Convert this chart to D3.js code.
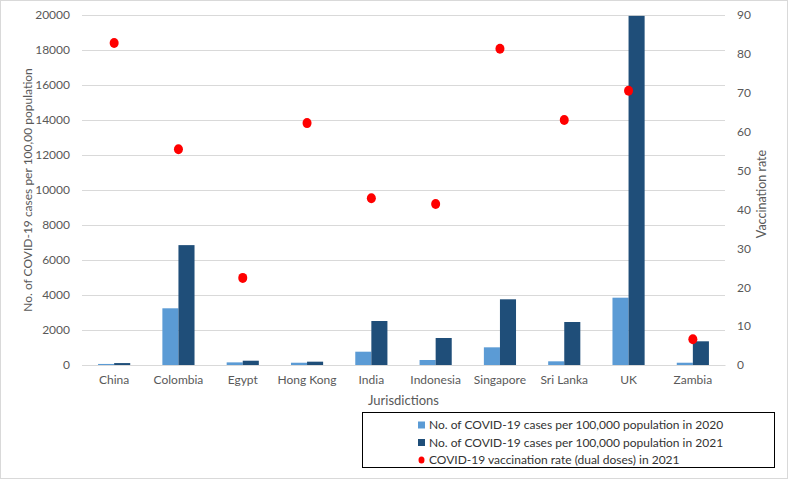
<!DOCTYPE html>
<html><head><meta charset="utf-8">
<script src="https://cdn.jsdelivr.net/npm/d3@7"></script>
<style>body{margin:0;background:#fff}svg{display:block}text{font-family:Lato,"Open Sans",sans-serif}</style>
</head><body><svg id="c" width="788" height="479"></svg>
<script>
const categories = ["China","Colombia","Egypt","Hong Kong","India","Indonesia","Singapore","Sri Lanka","UK","Zambia"];
const cases2020 = [60,3240,150,130,760,286,1010,210,3846,130];
const cases2021 = [110,6850,245,190,2514,1543,3754,2457,19950,1354];
const vaccRate = [82.8,55.5,22.4,62.2,42.9,41.4,81.3,63.0,70.5,6.6];
const leftTicks = [0,2000,4000,6000,8000,10000,12000,14000,16000,18000,20000];
const rightTicks = [0,10,20,30,40,50,60,70,80,90];
const seriesNames = ["No. of COVID-19 cases per 100,000 population in 2020","No. of COVID-19 cases per 100,000 population in 2021","COVID-19 vaccination rate (dual doses) in 2021"];
const colors = ["#5B9BD5","#1F4E79","#FF0000"];

const svg = d3.select("#c");
const L=82,R=725,T=15,B=365;
svg.append("rect").attr("x",0.5).attr("y",0.5).attr("width",787).attr("height",478).attr("fill","#fff").attr("stroke","#d9d9d9");
const x = d3.scaleBand().domain(categories).range([L,R]);
const xs = d3.scaleBand().domain([0,1]).range([0,x.bandwidth()]).paddingInner(0).paddingOuter(1);
const y = d3.scaleLinear().domain([0,20000]).range([B,T]);
const y2 = d3.scaleLinear().domain([0,90]).range([B,T]);
const tc="#595959";
// grid
svg.append("g").selectAll("line").data(leftTicks).join("line")
 .attr("x1",L).attr("x2",R).attr("y1",d=>Math.round(y(d))+0.5).attr("y2",d=>Math.round(y(d))+0.5)
 .attr("stroke","#d9d9d9").attr("stroke-width",1);
// left axis
const ga=svg.append("g").attr("transform",`translate(${L},0)`).call(d3.axisLeft(y).tickValues(leftTicks).tickSize(0).tickPadding(12).tickFormat(d3.format("d")));
ga.select(".domain").remove();
ga.selectAll("text").attr("fill",tc).style("font-size","12px");
const gr=svg.append("g").attr("transform",`translate(${R},0)`).call(d3.axisRight(y2).tickValues(rightTicks).tickSize(0).tickPadding(12));
gr.select(".domain").remove();
gr.selectAll("text").attr("fill",tc).style("font-size","12px");
// bars
[cases2020,cases2021].forEach((arr,si)=>{
 svg.append("g").selectAll("rect").data(arr).join("rect")
  .attr("x",(d,i)=>x(categories[i])+xs(si)).attr("width",xs.bandwidth())
  .attr("y",d=>y(d)).attr("height",d=>B-y(d)).attr("fill",colors[si]);
});
// x axis
const gx=svg.append("g").attr("transform",`translate(0,${B})`).call(d3.axisBottom(x).tickSize(0).tickPadding(10));
gx.select(".domain").attr("stroke","#d9d9d9");
gx.selectAll("text").attr("fill",tc).style("font-size","12px");
// markers
svg.append("g").selectAll("ellipse").data(vaccRate).join("ellipse")
 .attr("cx",(d,i)=>x(categories[i])+x.bandwidth()/2).attr("cy",d=>y2(d))
 .attr("rx",4.5).attr("ry",5).attr("fill",colors[2]);
// titles
svg.append("text").attr("transform",`translate(32,${(T+B)/2}) rotate(-90)`).attr("text-anchor","middle").attr("fill",tc).style("font-size","12px").text("No. of COVID-19 cases per 100,00 population");
svg.append("text").attr("transform",`translate(766,${(T+B)/2+4}) rotate(-90)`).attr("text-anchor","middle").attr("fill",tc).style("font-size","12.5px").text("Vaccination rate");
svg.append("text").attr("x",(L+R)/2).attr("y",405).attr("text-anchor","middle").attr("fill",tc).style("font-size","13px").text("Jurisdictions");
// legend
svg.append("rect").attr("x",362.5).attr("y",412.5).attr("width",412).attr("height",55).attr("fill","none").attr("stroke","#000").attr("stroke-width",1);
const lg=svg.append("g").selectAll("g").data(seriesNames).join("g").attr("transform",(d,i)=>`translate(418,${425+i*17.5})`);
lg.filter((d,i)=>i<2).append("rect").attr("x",0).attr("y",-3.5).attr("width",7).attr("height",7).attr("fill",(d,i)=>colors[i]);
lg.filter((d,i)=>i==2).append("ellipse").attr("cx",3.5).attr("cy",0).attr("rx",3).attr("ry",3.5).attr("fill",colors[2]);
lg.append("text").attr("x",11).attr("y",4).attr("fill","#333").style("font-size","12px").text(d=>d);
</script></body></html>
